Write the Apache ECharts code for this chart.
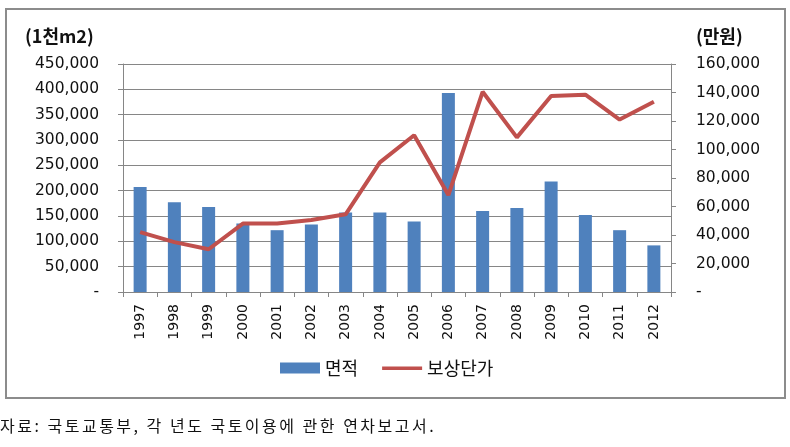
<!DOCTYPE html>
<html><head><meta charset="utf-8">
<script src="https://cdn.jsdelivr.net/npm/echarts@6/dist/echarts.min.js"></script>
<style>html,body{margin:0;padding:0;background:#fff}#c{width:790px;height:447px}
#src{position:absolute;left:0;top:413px;font:16px "Noto Sans CJK KR";letter-spacing:2.5px;color:#111;white-space:nowrap}</style>
</head><body><div id="c"></div><div id="src">자료: 국토교통부, 각 년도 국토이용에 관한 연차보고서.</div>
<script>
const years = ['1997','1998','1999','2000','2001','2002','2003','2004','2005','2006','2007','2008','2009','2010','2011','2012'];
const area = [207000,177000,168000,135000,122000,133000,157000,157000,139000,393000,160000,166000,218000,152000,122000,92000];
const price = [42000,35000,30000,48000,48000,50500,54500,91000,110000,68000,140500,108500,137500,138500,121000,133500];
const leftTicksMax = 450000, leftInterval = 50000;
const rightTicksMax = 160000, rightInterval = 20000;

const fmt = v => v === 0 ? '-' : v.toLocaleString('en-US');
const chart = echarts.init(document.getElementById('c'));
const font = 'DejaVu Sans';
chart.setOption({
  animation: false,
  textStyle: {fontFamily: font},
  graphic: [
    {type:'rect', shape:{x:6,y:9,width:779,height:389}, style:{fill:'none', stroke:'#8c8c8c', lineWidth:2}, z:-1},
    {type:'text', left:25, top:27, style:{text:'(1천m2)', font:'bold 18px "Noto Sans CJK KR"', fill:'#111'}},
    {type:'text', left:696, top:27, style:{text:'(만원)', font:'bold 18px "Noto Sans CJK KR"', fill:'#111'}}
  ],
  grid: {left:123, right:119, top:64, bottom:155},
  legend: {
    top: 354, left: 275,
    itemGap: 24,
    textStyle: {fontFamily:'Noto Sans CJK KR', fontSize:18, color:'#111'},
    data: [
      {name:'면적', icon:'rect', itemStyle:{color:'#4F81BD'}},
      {name:'보상단가', icon:'path://M0,0 L0,0 M0,4 L40,4 L40,7.5 L0,7.5 Z M40,11 L40,11', itemStyle:{color:'#C0504D'}}
    ],
    itemWidth: 40, itemHeight: 11
  },
  xAxis: {
    type:'category', data: years,
    axisLine:{lineStyle:{color:'#868686'}},
    axisTick:{show:true, alignWithLabel:false, length:5, lineStyle:{color:'#868686'}},
    axisLabel:{rotate:90, color:'#111', fontSize:14, fontFamily:font, margin:12}
  },
  yAxis: [
    {type:'value', min:0, max:leftTicksMax, interval:leftInterval,
     axisLine:{show:true, lineStyle:{color:'#868686'}},
     axisTick:{show:true, length:5, lineStyle:{color:'#868686'}},
     splitLine:{lineStyle:{color:'#868686'}},
     axisLabel:{formatter:fmt, color:'#111', fontSize:15.5, fontFamily:font, margin:24}},
    {type:'value', min:0, max:rightTicksMax, interval:rightInterval,
     axisLine:{show:true, lineStyle:{color:'#868686'}},
     axisTick:{show:true, length:5, lineStyle:{color:'#868686'}},
     splitLine:{show:false},
     axisLabel:{formatter:fmt, color:'#111', fontSize:15.5, fontFamily:font, margin:25, align:'left'}}
  ],
  series: [
    {name:'면적', type:'bar', data: area, barWidth:13, itemStyle:{color:'#4F81BD'}, yAxisIndex:0},
    {name:'보상단가', type:'line', data: price, yAxisIndex:1, symbol:'none',
     lineStyle:{color:'#C0504D', width:4}, itemStyle:{color:'#C0504D'}}
  ]
});
</script></body></html>
